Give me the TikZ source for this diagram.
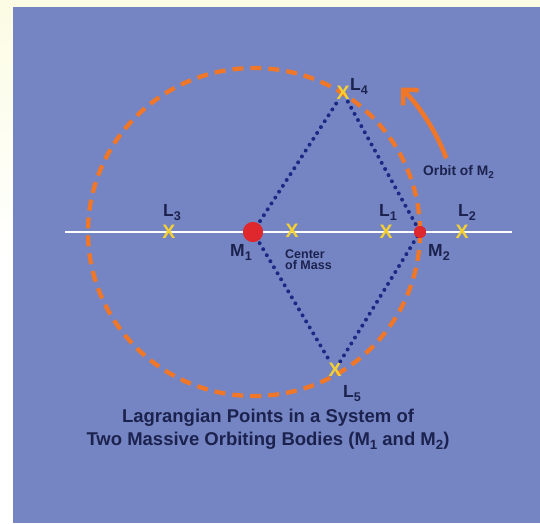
\documentclass[tikz,border=0pt]{standalone}
\usepackage{fontspec}
\setmainfont{Liberation Sans}
\usetikzlibrary{arrows.meta}
\definecolor{bgblue}{RGB}{117,133,196}
\definecolor{paper}{RGB}{252,252,228}
\definecolor{orbit}{RGB}{240,118,40}
\definecolor{lpyellow}{RGB}{245,208,50}
\definecolor{mass}{RGB}{222,40,45}
\definecolor{navy}{RGB}{28,34,78}
\definecolor{dotblue}{RGB}{26,42,132}
\newcommand\sbs[1]{\raisebox{-0.25em}{\scalebox{0.72}{#1}}}
\tikzset{
  lp/.style={text=lpyellow, font=\fontsize{19.5}{19.5}\selectfont\bfseries, inner sep=0pt},
  lab/.style={text=navy, font=\fontsize{17.5}{17.5}\selectfont\bfseries, inner sep=0pt},
  small/.style={text=navy, font=\fontsize{12.5}{12}\selectfont\bfseries, inner sep=0pt},
  body/.style={circle, fill=mass, inner sep=0pt},
  dotline/.style={dotblue, line width=4pt, line cap=round, dash pattern=on 0pt off 7pt},
  orbitline/.style={orbit, line width=4.3pt, dash pattern=on 11pt off 7pt},
}
\begin{document}
\begin{tikzpicture}[x=1pt,y=-1pt]
\useasboundingbox (0,0) rectangle (540,523);
\shade[top color=paper, bottom color=white, middle color=white] (0,0) rectangle (540,523);
\fill[bgblue] (13,7) rectangle (540,523);
% axis
\draw[white, line width=2.8pt] (65,232) -- (512,232);
% orbit
\draw[orbitline] (254,232) ellipse [x radius=166, y radius=164];
% bodies and points
\node[body, minimum size=20pt] (m1) at (253,232) {};
\node[body, minimum size=12pt] (m2) at (420,232) {};
\node[lp] (l1) at (386,232) {X};
\node[lp] (l2) at (462,232) {X};
\node[lp] (l3) at (169,232) {X};
\node[lp] (cm) at (292,231) {X};
\node[lp] (l4) at (343,93) {X};
\node[lp] (l5) at (335,370) {X};
% dotted triangle lines
\draw[dotline, shorten <=6pt, shorten >=2pt] (m1.center) -- (l4);
\draw[dotline, shorten <=2pt, shorten >=2pt] (l4) -- (m2.center);
\draw[dotline, shorten <=6pt, shorten >=2pt] (m1.center) -- (l5);
\draw[dotline, shorten <=2pt, shorten >=2pt] (l5) -- (m2.center);
\node[body, minimum size=20pt] at (m1) {};
\node[body, minimum size=12pt] at (m2) {};
% orbit arrow
\coordinate (oc) at (254,232);
\draw[orbit, line width=4.5pt, -{Straight Barb[length=11pt,width=22pt]}] ([shift={(-21:206)}]oc) arc[start angle=-21, end angle=-44.5, radius=206];
% labels
\node[lab, anchor=base] (tl3) at (172,216) {L\sbs{3}};
\node[lab, anchor=base] (tl1) at (388,216) {L\sbs{1}};
\node[lab, anchor=base] (tl2) at (467,216) {L\sbs{2}};
\node[lab, anchor=base west] (tl4) at (350,90) {L\sbs{4}};
\node[lab, anchor=base west] (tl5) at (343,397) {L\sbs{5}};
\node[lab, anchor=base west] (tm1) at (230,256) {M\sbs{1}};
\node[lab, anchor=base west] (tm2) at (428,256) {M\sbs{2}};
\node[small, anchor=base west] (tcm) at (285,258) {Center};
\node[small, anchor=base west] (tcm2) at (285,269.5) {of Mass};
\node[text=navy, font=\fontsize{13.8}{14}\selectfont\bfseries, inner sep=0pt, anchor=base west] (torb) at (423,175) {Orbit of M\sbs{2}};
\node[text=navy, font=\fontsize{18.5}{22.5}\selectfont\bfseries, inner sep=0pt, align=center, anchor=base] (title) at (268,445) {Lagrangian Points in a System of\\Two Massive Orbiting Bodies (M\sbs{1} and M\sbs{2})};
\end{tikzpicture}
\end{document}
